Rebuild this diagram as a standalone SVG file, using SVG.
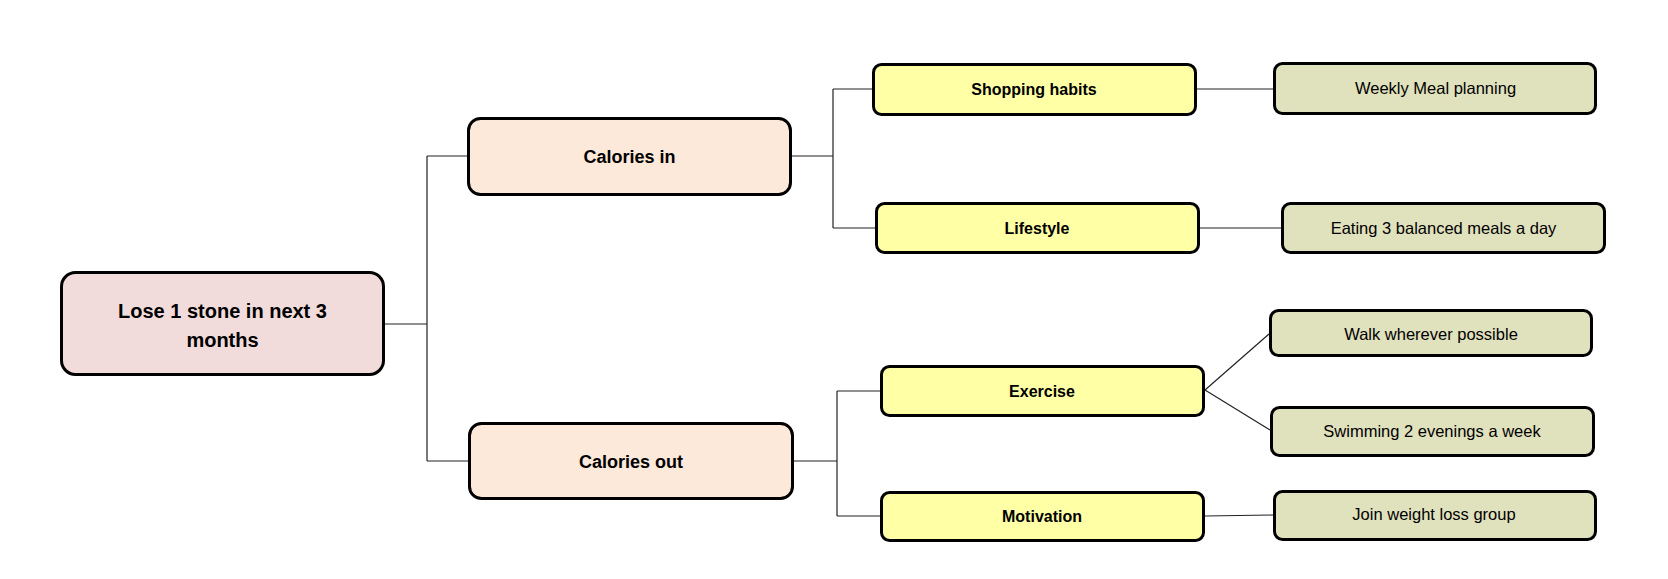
<svg xmlns="http://www.w3.org/2000/svg" width="1668" height="579" viewBox="0 0 1668 579">
<style>
  .box{stroke:#000;stroke-width:3}
  .root{fill:#F2DCDB}
  .l1{fill:#FDE9D9}
  .l2{fill:#FFFFA6}
  .l3{fill:#E0E1BD}
  text{font-family:"Liberation Sans",Arial,sans-serif;fill:#000;text-anchor:middle}
  .b20{font-size:20px;font-weight:bold}
  .b18{font-size:18px;font-weight:bold}
  .b16{font-size:16px;font-weight:bold}
  .r16{font-size:16.5px}
  .conn path{fill:none;stroke:#222;stroke-width:1.2}
</style>
<rect width="1668" height="579" fill="#fff"/>
<g class="conn" id="connectors">
  <path d="M385 324 H427 M427 156 V461 M427 156 H467 M427 461 H468"/>
  <path d="M792 156 H833 M833 89 V228 M833 89 H872 M833 228 H875"/>
  <path d="M794 461 H837 M837 391 V516 M837 391 H880 M837 516 H880"/>
  <path d="M1197 89 H1273"/>
  <path d="M1200 228 H1281"/>
  <path d="M1205 390 L1269 334"/>
  <path d="M1205 390 L1270 430"/>
  <path d="M1205 516 L1273 515"/>
</g>
<g id="root">
  <rect class="box root" x="61.5" y="272.5" width="322" height="102" rx="14"/>
  <text class="b20" x="222.5" y="318">Lose 1 stone in next 3</text>
  <text class="b20" x="222.5" y="347">months</text>
</g>
<g id="calories-in">
  <rect class="box l1" x="468.5" y="118.5" width="322" height="76" rx="12"/>
  <text class="b18" x="629.5" y="163">Calories in</text>
</g>
<g id="calories-out">
  <rect class="box l1" x="469.5" y="423.5" width="323" height="75" rx="12"/>
  <text class="b18" x="631" y="467.5">Calories out</text>
</g>
<g id="shopping-habits">
  <rect class="box l2" x="873.5" y="64.5" width="322" height="50" rx="8"/>
  <text class="b16" x="1034" y="94.5">Shopping habits</text>
</g>
<g id="lifestyle">
  <rect class="box l2" x="876.5" y="203.5" width="322" height="49" rx="8"/>
  <text class="b16" x="1037" y="234">Lifestyle</text>
</g>
<g id="exercise">
  <rect class="box l2" x="881.5" y="366.5" width="322" height="49" rx="8"/>
  <text class="b16" x="1042" y="396.5">Exercise</text>
</g>
<g id="motivation">
  <rect class="box l2" x="881.5" y="492.5" width="322" height="48" rx="8"/>
  <text class="b16" x="1042" y="521.5">Motivation</text>
</g>
<g id="weekly-meal-planning">
  <rect class="box l3" x="1274.5" y="63.5" width="321" height="50" rx="8"/>
  <text class="r16" x="1435.5" y="93.5">Weekly Meal planning</text>
</g>
<g id="eating-balanced">
  <rect class="box l3" x="1282.5" y="203.5" width="322" height="49" rx="8"/>
  <text class="r16" x="1443.5" y="233.5">Eating 3 balanced meals a day</text>
</g>
<g id="walk">
  <rect class="box l3" x="1270.5" y="310.5" width="321" height="45" rx="8"/>
  <text class="r16" x="1431" y="340">Walk wherever possible</text>
</g>
<g id="swimming">
  <rect class="box l3" x="1271.5" y="407.5" width="322" height="48" rx="8"/>
  <text class="r16" x="1432" y="436.5">Swimming 2 evenings a week</text>
</g>
<g id="join-group">
  <rect class="box l3" x="1274.5" y="491.5" width="321" height="48" rx="8"/>
  <text class="r16" x="1434" y="520">Join weight loss group</text>
</g>
</svg>
